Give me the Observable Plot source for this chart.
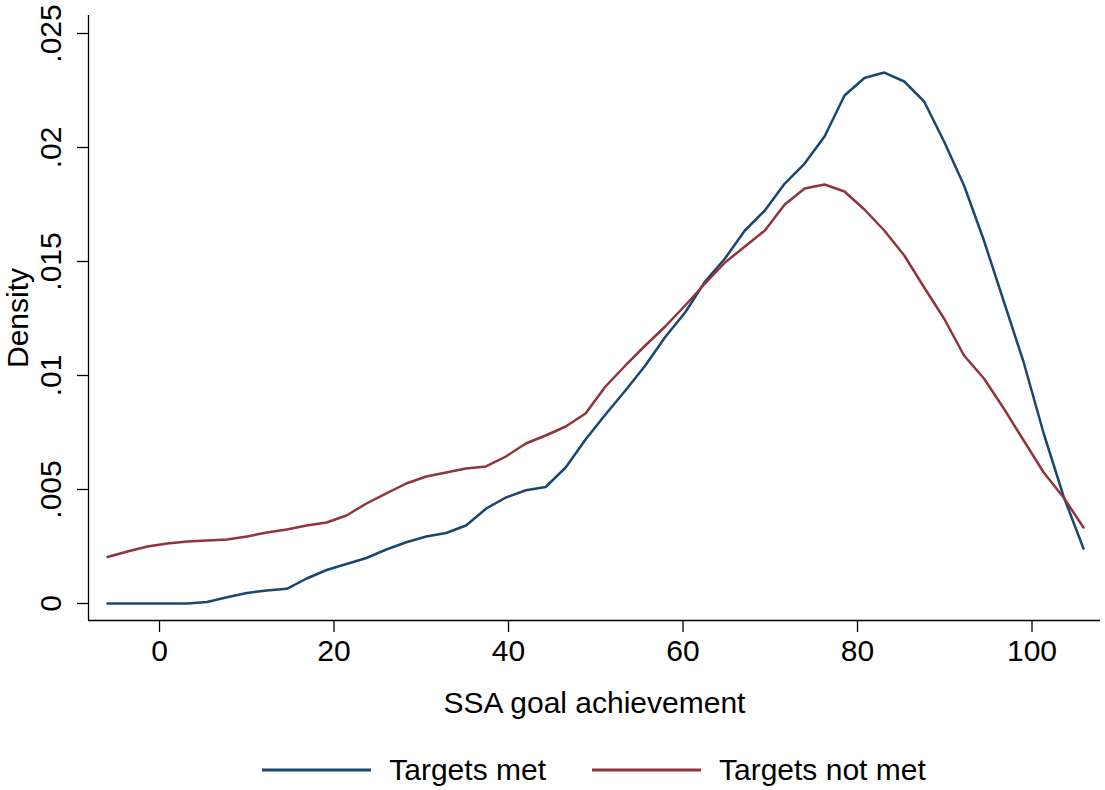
<!DOCTYPE html>
<html><head><meta charset="utf-8">
<script src="https://cdn.jsdelivr.net/npm/d3@7"></script>
<script src="https://cdn.jsdelivr.net/npm/@observablehq/plot@0.6"></script>
<style>
body{margin:0;background:#fff;font-family:"Liberation Sans",Arial,Helvetica,sans-serif;}
#legend{display:flex;justify-content:center;align-items:center;height:60px;padding-left:88px;padding-right:5px;font-size:30px;color:#000;}
.item{display:flex;align-items:center;}
.item + .item{margin-left:46px;}
.item svg{margin-right:18px;}
</style></head><body>
<div id="chart"></div>
<div id="legend"></div>
<script>
const xs = [-5.96,-3.68,-1.39,0.89,3.17,5.45,7.74,10.02,12.30,14.59,16.87,19.15,21.43,23.72,26.00,28.28,30.57,32.85,35.13,37.42,39.70,41.98,44.26,46.55,48.83,51.11,53.40,55.68,57.96,60.24,62.53,64.81,67.09,69.38,71.66,73.94,76.22,78.51,80.79,83.07,85.36,87.64,89.92,92.21,94.49,96.77,99.05,101.34,103.62,105.90];
const targetsMet = [0,0,0,0,0,0.000066,0.000276,0.000461,0.00057,0.000645,0.001096,0.001469,0.001732,0.001996,0.002368,0.002684,0.002939,0.003092,0.003421,0.004158,0.004649,0.004969,0.00511,0.005965,0.007193,0.008289,0.009342,0.010439,0.011689,0.012763,0.014123,0.015132,0.01636,0.017237,0.018421,0.019298,0.020482,0.022281,0.023048,0.023289,0.022895,0.022018,0.020263,0.018333,0.015921,0.013246,0.01057,0.007456,0.004693,0.002412];
const targetsNotMet = [0.002039,0.002281,0.0025,0.002632,0.002719,0.002763,0.002807,0.002939,0.003114,0.003246,0.003421,0.003553,0.00386,0.004386,0.004825,0.005263,0.00557,0.005746,0.005921,0.006009,0.006447,0.007018,0.007368,0.007763,0.008333,0.009518,0.010439,0.011316,0.012149,0.01307,0.014035,0.014956,0.015658,0.01636,0.0175,0.018202,0.018377,0.01807,0.017281,0.01636,0.015263,0.01386,0.0125,0.010877,0.009868,0.008553,0.007149,0.005746,0.004649,0.003333];
const seriesNames = ["Targets met", "Targets not met"];
const seriesColors = ["#1a476f", "#90353b"];
const xTicks = [0, 20, 40, 60, 80, 100];
const yTicks = [0, 0.005, 0.01, 0.015, 0.02, 0.025];
const yTickLabels = ["0", ".005", ".01", ".015", ".02", ".025"];
const xDomain = [-8.14, 107.85];
const yDomain = [-0.000746, 0.02579];
const xTitle = "SSA goal achievement";
const yTitle = "Density";

const data = [];
xs.forEach((x, i) => {
  data.push({x, y: targetsMet[i], s: seriesNames[0]});
});
xs.forEach((x, i) => {
  data.push({x, y: targetsNotMet[i], s: seriesNames[1]});
});

const chart = Plot.plot({
  width: 1105, height: 740,
  marginLeft: 88, marginRight: 5, marginTop: 15, marginBottom: 120,
  style: {fontFamily: '"Liberation Sans",Arial,Helvetica,sans-serif', fontSize: "30px", color: "#000", background: "#fff", overflow: "visible"},
  x: {domain: xDomain},
  y: {domain: yDomain},
  color: {domain: seriesNames, range: seriesColors},
  marks: [
    Plot.ruleX([xDomain[0]], {stroke: "#000", strokeWidth: 1.3}),
    Plot.ruleY([yDomain[0]], {stroke: "#000", strokeWidth: 1.3}),
    Plot.axisX({ticks: xTicks, tickSize: 12, tickPadding: 7, tickFormat: d => String(d), label: null, fontSize: 30, strokeWidth: 1.3}),
    Plot.axisY({ticks: yTicks, tickSize: 11, tickFormat: () => "", label: null, strokeWidth: 1.3}),
    Plot.text(yTicks, {y: d => d, text: (d, i) => yTickLabels[i], frameAnchor: "left", dx: -37, rotate: -90, textAnchor: "middle", lineAnchor: "middle", fontSize: 30}),
    Plot.text([yTitle], {text: d => d, frameAnchor: "left", dx: -70, rotate: -90, textAnchor: "middle", lineAnchor: "middle", fontSize: 30}),
    Plot.text([xTitle], {text: d => d, frameAnchor: "bottom", dy: 71, lineAnchor: "top", textAnchor: "middle", fontSize: 30}),
    Plot.line(data, {x: "x", y: "y", z: "s", stroke: "s", strokeWidth: 2.5})
  ]
});
document.getElementById("chart").appendChild(chart);

const legend = document.getElementById("legend");
seriesNames.forEach((name, i) => {
  const item = document.createElement("div");
  item.className = "item";
  item.innerHTML = `<svg width="109" height="8"><line x1="0" x2="109" y1="4" y2="4" stroke="${seriesColors[i]}" stroke-width="3"/></svg><span>${name}</span>`;
  legend.appendChild(item);
});
</script>
</body></html>
